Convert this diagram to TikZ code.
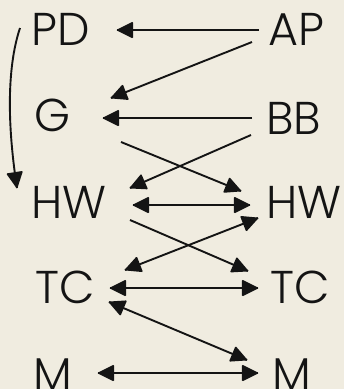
\documentclass[tikz,border=0pt]{standalone}
\usepackage{fontspec}
\IfFontExistsTF{Poppins Light}{\setmainfont{Poppins Light}}{\setmainfont{Poppins}}
\usetikzlibrary{decorations.markings}
\definecolor{bg}{RGB}{240,236,224}
\definecolor{ink}{RGB}{20,20,20}
\begin{document}
\begin{tikzpicture}[x=1pt,y=-1pt,
  lbl/.style={font=\fontsize{46}{46}\selectfont, text=ink, inner sep=0pt, anchor=base west},
  line/.style={draw=ink, line width=1.9pt},
  headend/.style={postaction={decorate, decoration={markings,
     mark=at position 0.99999 with {\fill[ink, rounded corners=1pt] (1pt,0pt) -- (-16pt,8.5pt) -- (-16pt,-8.5pt) -- cycle;}}}},
  headstart/.style={postaction={decorate, decoration={markings,
     mark=at position 0.00001 with {\fill[ink, rounded corners=1pt] (-1pt,0pt) -- (16pt,8.5pt) -- (16pt,-8.5pt) -- cycle;}}}},
  conn/.style={line, headend},
  both/.style={line, headend, headstart}]
\fill[bg] (0,0) rectangle (344,389);
\useasboundingbox (0,0) rectangle (344,389);
% labels
\node[lbl] (PD) at (31,45) {PD};
\node[lbl] (G) at (34,131) {G};
\node[lbl] (HWl) at (31,218) {HW};
\node[lbl] (TCl) at (35,303) {TC};
\node[lbl] (Ml) at (33,390) {M};
\node[lbl] (AP) at (268,45) {AP};
\node[lbl] (BB) at (266,134) {BB};
\node[lbl] (HWr) at (266,218) {HW};
\node[lbl] (TCr) at (270,303) {TC};
\node[lbl] (Mr) at (272,390) {M};
% connector end points
\coordinate (apA) at (259,30);  \coordinate (pdA) at (117,30);
\coordinate (apB) at (252,42);  \coordinate (gA) at (111,98);
\coordinate (bbA) at (252,118); \coordinate (gB) at (103,118);
\coordinate (bbB) at (251,135); \coordinate (hwlA) at (130,188);
\coordinate (gC) at (121,142);  \coordinate (hwrA) at (241,191);
\coordinate (hwlB) at (133,205);\coordinate (hwrB) at (250,205);
\coordinate (hwlC) at (130,220);\coordinate (tcrA) at (248,271);
\coordinate (tclA) at (125,270);\coordinate (hwrC) at (258,218);
\coordinate (tclB) at (110,288);\coordinate (tcrB) at (258,288);
\coordinate (tclC) at (109,302);\coordinate (mrA) at (247,360);
\coordinate (mlA) at (98,373);  \coordinate (mrB) at (258,373);
\coordinate (pdB) at (20,28);   \coordinate (hwlD) at (17,188);
% connectors
\draw[conn] (apA) -- (pdA);
\draw[conn] (apB) -- (gA);
\draw[conn] (bbA) -- (gB);
\draw[conn] (bbB) -- (hwlA);
\draw[conn] (gC) -- (hwrA);
\draw[both] (hwlB) -- (hwrB);
\draw[conn] (hwlC) -- (tcrA);
\draw[both] (tclA) -- (hwrC);
\draw[both] (tclB) -- (tcrB);
\draw[both] (tclC) -- (mrA);
\draw[both] (mlA) -- (mrB);
\draw[conn] (pdB) .. controls (6,70) and (8,130) .. (hwlD);
\end{tikzpicture}
\end{document}
